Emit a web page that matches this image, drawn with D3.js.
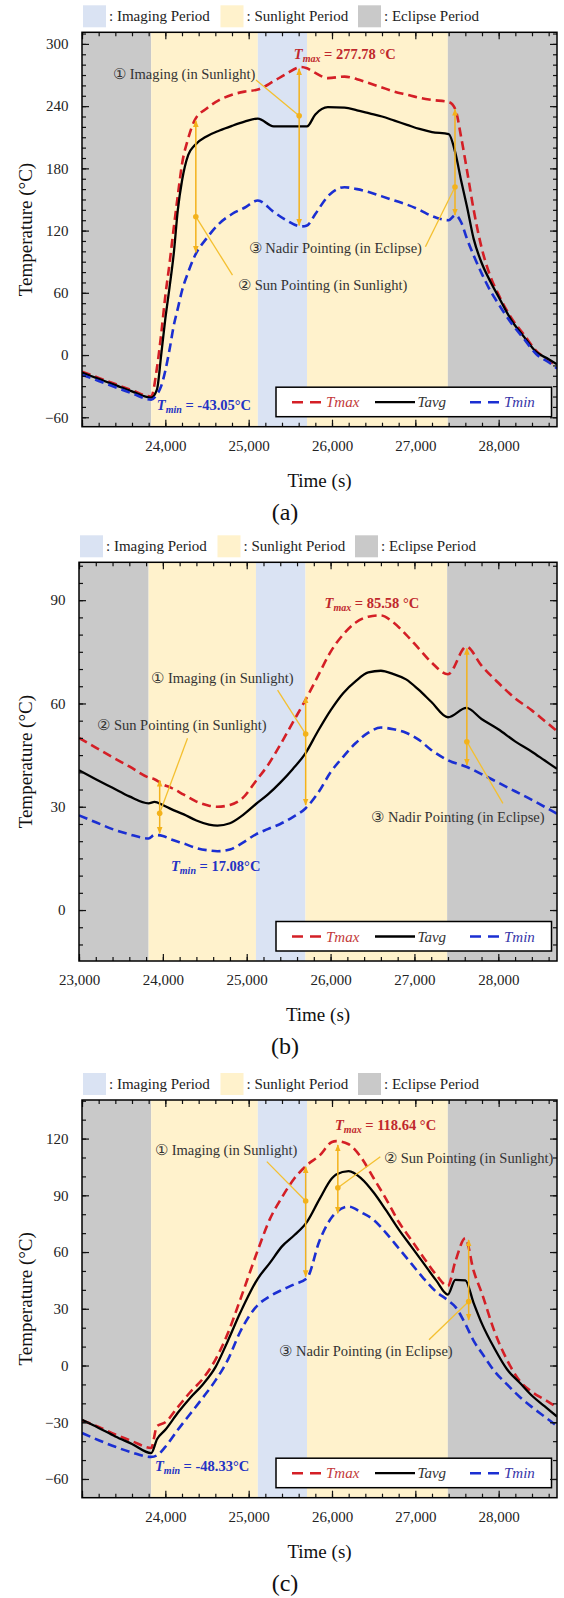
<!DOCTYPE html>
<html>
<head>
<meta charset="utf-8">
<script src="https://cdn.jsdelivr.net/npm/d3@7"></script>
<style>
  body { margin: 0; background: #fff; }
  svg { display: block; font-family: "Liberation Serif", "Times New Roman", serif; }
</style>
</head>
<body>
<svg id="chart" width="564" height="1598"></svg>
<script>
// ---- shared data ----
const timeDomain = [23000, 28700];
const periodKind = ["Eclipse", "Sunlight", "Imaging", "Sunlight", "Eclipse"];
const periodStart = [23000, 23830, 25110, 25700, 27390];
const periodEnd = [23830, 25110, 25700, 27390, 28700];
const legendPeriods = ["Imaging", "Sunlight", "Eclipse"];
const seriesNames = ["Tmax", "Tavg", "Tmin"];

// ---- panel (a) ----
const timeA = [23000, 23200, 23400, 23600, 23830, 23900, 23950, 24000, 24050, 24100, 24150, 24200, 24275, 24350, 24500, 24650, 24800, 24950, 25110, 25300, 25450, 25630, 25700, 25800, 25950, 26150, 26300, 26450, 26600, 26750, 26900, 27050, 27200, 27400, 27480, 27550, 27620, 27700, 27800, 27900, 28000, 28150, 28300, 28450, 28600, 28700];
const tmaxA = [-16, -22, -28, -34, -40, -12, 20, 57, 88, 122, 154, 184, 209, 226, 238, 246, 251, 254, 256, 264, 271, 277.78, 276.5, 272, 267, 268.5, 266, 262, 258, 254, 251, 248, 246, 244, 237, 210, 178, 140, 102, 76, 58, 36, 20, 4, -5, -11];
const tavgA = [-17, -23, -29, -35, -41, -33, 0, 35, 65, 97, 140, 168, 193, 202, 211, 216.5, 221, 225, 228, 220.5, 220.5, 220.5, 220.5, 232, 239, 238.5, 236, 233, 230, 226, 222, 218, 215, 213, 195, 168, 143, 112, 88, 71, 56, 34, 18, 3, -4, -9];
const tminA = [-19, -25, -31, -37, -43.05, -38, -30, -15, 5, 28, 45, 62, 80, 95, 113, 127, 136, 142, 149, 138, 130, 124, 125, 136, 153, 161.8, 160, 157, 153, 149, 145, 140, 134, 130, 135, 128, 112, 96, 78, 62, 49, 31, 16, 1, -7, -13];
const yLabelsA = [-60, 0, 60, 120, 180, 240, 300];
const xLabelsA = [24000, 25000, 26000, 27000, 28000];

// ---- panel (b) ----
const timeB = [23000, 23200, 23400, 23600, 23830, 23900, 24000, 24100, 24250, 24400, 24550, 24650, 24800, 24950, 25110, 25250, 25400, 25550, 25700, 25850, 26000, 26150, 26300, 26450, 26600, 26750, 26900, 27050, 27200, 27400, 27620, 27800, 28000, 28200, 28400, 28550, 28700];
const tmaxB = [50, 47.2, 44.4, 41.7, 38.5, 38, 36.5, 35.5, 33.5, 31.5, 30.3, 30, 30.5, 32.5, 37.5, 42, 48, 54.5, 61, 68, 75, 80, 83.5, 85.2, 85.58, 83.5, 80, 76, 72, 68.5, 76.5, 71, 66, 61.5, 58, 55, 52];
const tavgB = [40.6, 38, 35.5, 33, 31, 31.4, 30.5, 29.3, 27.8, 26, 24.8, 24.5, 25.2, 27.5, 30.8, 33.5, 37, 41, 45.5, 52, 58, 63, 66.5, 69, 69.5, 68.5, 67, 64, 60.5, 56, 58.7, 55.5, 52.5, 49, 46, 43.5, 41];
const tminB = [27.5, 25.5, 23.5, 22, 20.8, 21.8, 21.5, 20.5, 19.3, 18, 17.3, 17.08, 17.6, 19.5, 22, 23.5, 25, 27, 29.5, 34, 40, 44.5, 48.5, 51.5, 53, 52.5, 51.5, 49.5, 46.5, 43.5, 41.6, 39.5, 37, 34.5, 32, 30, 28];
const yLabelsB = [0, 30, 60, 90];
const xLabelsB = [23000, 24000, 25000, 26000, 27000, 28000];

// ---- panel (c) ----
const timeC = [23000, 23200, 23400, 23600, 23830, 23900, 24000, 24150, 24300, 24450, 24600, 24750, 24900, 25110, 25250, 25400, 25550, 25700, 25850, 26000, 26050, 26200, 26350, 26500, 26650, 26800, 26950, 27100, 27250, 27390, 27480, 27600, 27700, 27800, 27950, 28100, 28250, 28400, 28550, 28700];
const tmaxC = [-29, -32.5, -36.5, -40, -43.6, -32, -30, -22, -14, -7, 3, 17, 35, 61, 77, 89, 99, 106, 111, 118.2, 118.64, 117, 110, 99, 88, 76, 66.5, 57, 48, 42, 55, 67.3, 50, 38, 18, 3, -8, -14, -18, -22];
const tavgC = [-28.7, -33, -37.5, -41.5, -46.3, -39, -34, -25, -17, -10, -1, 13, 28, 46, 54, 63, 69, 76, 88, 99, 101, 102.8, 99, 91.5, 82, 72, 63, 54, 45, 37.5, 45.3, 45, 33, 22, 9, -2, -9, -16, -21.5, -27];
const tminC = [-35.7, -39.5, -43, -46, -48.33, -47.5, -43, -34, -25.5, -17, -8, 3, 18, 32, 36.5, 40, 43, 46.2, 66, 78.5, 81, 84, 81, 77, 70, 62, 54, 46, 39, 34.5, 31, 22, 13, 6.5, -3, -10, -16.5, -22, -27, -32];
const yLabelsC = [-60, -30, 0, 30, 60, 90, 120];
const xLabelsC = [24000, 25000, 26000, 27000, 28000];

// annotations, in data units (time, temperature)
const notesA = [
  { text: "① Imaging (in Sunlight)", tx: 23372, ty: 265.9, px: 25088, py: 265.2, dt: 25606, dv: 230.8, top: 276, bottom: 125 },
  { text: "② Sun Pointing (in Sunlight)", tx: 24872, ty: 62.7, px: 24806, py: 77.1, dt: 24366, dv: 133.4, top: 226, bottom: 99 },
  { text: "③ Nadir Pointing (in Eclipse)", tx: 25000, ty: 98.1, px: 27121, py: 104.4, dt: 27476, dv: 162, top: 237, bottom: 135 }
];
const notesB = [
  { text: "① Imaging (in Sunlight)", tx: 23863, ty: 65.8, px: 25368, py: 63.9, dt: 25703, dv: 51.1, top: 61.9, bottom: 30.5 },
  { text: "② Sun Pointing (in Sunlight)", tx: 23218, ty: 52.3, px: 24294, py: 49.9, dt: 23962, dv: 28.1, top: 37.7, bottom: 22.3 },
  { text: "③ Nadir Pointing (in Eclipse)", tx: 26486, ty: 25.6, px: 28055, py: 31, dt: 27625, dv: 48.9, top: 76, bottom: 42.1 }
];
const notesC = [
  { text: "① Imaging (in Sunlight)", tx: 23876, ty: 111.3, px: 25218, py: 107.8, dt: 25684, dv: 87, top: 105.1, bottom: 47 },
  { text: "② Sun Pointing (in Sunlight)", tx: 26624, ty: 106.9, px: 26580, py: 110.4, dt: 26070, dv: 94, top: 116.6, bottom: 80.5 },
  { text: "③ Nadir Pointing (in Eclipse)", tx: 25369, ty: 4.8, px: 27164, py: 13.6, dt: 27640, dv: 33.8, top: 66.4, bottom: 24.1 }
];
const extremesA = [
  { sub: "max", value: " = 277.78 °C", t: 25542, v: 285.4 },
  { sub: "min", value: " = -43.05°C", t: 23898, v: -53 }
];
const extremesB = [
  { sub: "max", value: " = 85.58 °C", t: 25928, v: 87.6 },
  { sub: "min", value: " = 17.08°C", t: 24097, v: 11.3 }
];
const extremesC = [
  { sub: "max", value: " = 118.64 °C", t: 26036, v: 124.5 },
  { sub: "min", value: " = -48.33°C", t: 23876, v: -56 }
];

const periodColor = { Imaging: "#dae3f3", Sunlight: "#fff2cc", Eclipse: "#c9c9c9" };
const lineColor = { Tmax: "#d41f26", Tavg: "#000000", Tmin: "#1b2fd2" };
const textColor = { Tmax: "#c0282d", Tavg: "#222222", Tmin: "#2433c4" };
const legendText = { Tmax: "#c33a3a", Tavg: "#333333", Tmin: "#3535a8" };
const gold = "#f3b21b";

const panels = [
  { id: "a", letter: "(a)", left: 82, right: 557, top: 32.3, bottom: 426.7, yDomain: [-69.1, 311.2], yStep: 10,
    time: timeA, values: [tmaxA, tavgA, tminA], yLabels: yLabelsA, xLabels: xLabelsA, notes: notesA, extremes: extremesA },
  { id: "b", letter: "(b)", left: 79, right: 557, top: 562.3, bottom: 961, yDomain: [-14.8, 101], yStep: 5,
    time: timeB, values: [tmaxB, tavgB, tminB], yLabels: yLabelsB, xLabels: xLabelsB, notes: notesB, extremes: extremesB },
  { id: "c", letter: "(c)", left: 82, right: 557, top: 1100, bottom: 1497.7, yDomain: [-69.9, 140.4], yStep: 10,
    time: timeC, values: [tmaxC, tavgC, tminC], yLabels: yLabelsC, xLabels: xLabelsC, notes: notesC, extremes: extremesC }
];

const svg = d3.select("#chart");

svg.append("defs").append("marker")
  .attr("id", "head")
  .attr("viewBox", "0 0 10 10")
  .attr("refX", 9)
  .attr("refY", 5)
  .attr("markerWidth", 7)
  .attr("markerHeight", 7)
  .attr("markerUnits", "userSpaceOnUse")
  .attr("orient", "auto-start-reverse")
  .append("path")
  .attr("d", "M0,1L10,5L0,9Z")
  .attr("fill", gold);

panels.forEach(drawPanel);

function drawPanel(p) {
  const x = d3.scaleLinear().domain(timeDomain).range([p.left, p.right]);
  const y = d3.scaleLinear().domain(p.yDomain).range([p.bottom, p.top]);
  const g = svg.append("g").attr("class", "panel-" + p.id);

  g.append("clipPath").attr("id", "clip-" + p.id)
    .append("rect")
    .attr("x", p.left).attr("y", p.top)
    .attr("width", p.right - p.left).attr("height", p.bottom - p.top);

  // shaded orbit periods
  g.append("g")
    .selectAll("rect")
    .data(periodKind.map((k, i) => ({ kind: k, start: periodStart[i], end: periodEnd[i] })))
    .join("rect")
    .attr("x", (d) => x(d.start))
    .attr("width", (d) => x(d.end) - x(d.start))
    .attr("y", p.top)
    .attr("height", p.bottom - p.top)
    .attr("fill", (d) => periodColor[d.kind]);

  // period legend above the frame
  const pl = g.append("g").attr("transform", `translate(${p.left},${p.top - 27})`);
  const item = pl.selectAll("g").data(legendPeriods).join("g")
    .attr("transform", (d, i) => `translate(${1 + i * 137.5},0)`);
  item.append("rect").attr("width", 23).attr("height", 22).attr("fill", (d) => periodColor[d]);
  item.append("text")
    .attr("x", 26).attr("y", 16)
    .attr("font-size", 15).attr("fill", "#222")
    .text((d) => ": " + d + " Period");

  // temperature curves
  const lines = g.append("g").attr("clip-path", `url(#clip-${p.id})`);
  const line = d3.line()
    .x((d, i) => x(p.time[i]))
    .y((d) => y(d))
    .curve(d3.curveMonotoneX);
  lines.selectAll("path")
    .data(seriesNames.map((name, i) => ({ name, vals: p.values[i] })))
    .join("path")
    .attr("d", (d) => line(d.vals))
    .attr("fill", "none")
    .attr("stroke", (d) => lineColor[d.name])
    .attr("stroke-width", (d) => (d.name === "Tavg" ? 2.3 : 2.6))
    .attr("stroke-dasharray", (d) => (d.name === "Tavg" ? null : "9,5"))
    .attr("stroke-linejoin", "round");

  // annotations: double arrows, pointer lines, dots, captions
  const ann = g.append("g");
  ann.selectAll("line.arrow").data(p.notes).join("line")
    .attr("class", "arrow")
    .attr("x1", (d) => x(d.dt)).attr("x2", (d) => x(d.dt))
    .attr("y1", (d) => y(d.top)).attr("y2", (d) => y(d.bottom))
    .attr("stroke", gold).attr("stroke-width", 1.5)
    .attr("marker-start", "url(#head)").attr("marker-end", "url(#head)");
  ann.selectAll("line.pointer").data(p.notes).join("line")
    .attr("class", "pointer")
    .attr("x1", (d) => x(d.px)).attr("y1", (d) => y(d.py))
    .attr("x2", (d) => x(d.dt)).attr("y2", (d) => y(d.dv))
    .attr("stroke", "#f4c030").attr("stroke-width", 1.3);
  ann.selectAll("circle").data(p.notes).join("circle")
    .attr("cx", (d) => x(d.dt)).attr("cy", (d) => y(d.dv))
    .attr("r", 2.8).attr("fill", gold);
  ann.selectAll("text").data(p.notes).join("text")
    .attr("x", (d) => x(d.tx)).attr("y", (d) => y(d.ty))
    .attr("font-size", 14.5).attr("fill", "#333")
    .text((d) => d.text);

  // Tmax / Tmin value labels
  p.extremes.forEach((d) => {
    const c = d.sub === "max" ? textColor.Tmax : textColor.Tmin;
    const t = g.append("text")
      .attr("x", x(d.t)).attr("y", y(d.v))
      .attr("font-size", 14.5).attr("font-weight", "bold").attr("fill", c);
    t.append("tspan").attr("font-style", "italic").text("T");
    t.append("tspan").attr("font-style", "italic").attr("font-size", 10).attr("dy", 3).text(d.sub);
    t.append("tspan").attr("dy", -3).text(d.value);
  });

  // series legend box
  const bx = p.right - 281, by = p.bottom - 39.5;
  const lg = g.append("g").attr("transform", `translate(${bx},${by})`);
  lg.append("rect").attr("width", 275.5).attr("height", 29.5)
    .attr("fill", "#fff").attr("stroke", "#000").attr("stroke-width", 1.5);
  const li = lg.selectAll("g").data(seriesNames).join("g")
    .attr("transform", (d, i) => `translate(${[16, 99, 194][i]},15)`);
  li.append("line")
    .attr("x2", (d) => (d === "Tavg" ? 40 : 29))
    .attr("stroke", (d) => lineColor[d])
    .attr("stroke-width", (d) => (d === "Tavg" ? 2.3 : 2.6))
    .attr("stroke-dasharray", (d) => (d === "Tavg" ? null : "11,7"));
  li.append("text")
    .attr("x", (d) => (d === "Tavg" ? 42.5 : 34))
    .attr("y", 5)
    .attr("font-size", 15).attr("font-style", "italic")
    .attr("fill", (d) => legendText[d])
    .text((d) => d);

  // axes with inward ticks on all four sides
  const xMinor = d3.range(timeDomain[0], timeDomain[1] + 1, 200);
  const xMajor = d3.range(timeDomain[0], timeDomain[1] + 1, 1000);
  const yMinor = d3.range(Math.ceil(p.yDomain[0] / p.yStep) * p.yStep, p.yDomain[1], p.yStep);
  const noDomain = (sel) => sel.select(".domain").remove();
  const styleTicks = (sel) => {
    sel.attr("font-family", null).attr("font-size", null);
    sel.selectAll("line").attr("stroke", "#111").attr("stroke-width", 1.2);
    sel.selectAll("text").attr("font-size", 15).attr("fill", "#222");
  };

  const axes = g.append("g");
  axes.append("g").attr("transform", `translate(0,${p.bottom})`)
    .call(d3.axisBottom(x).tickValues(xMinor).tickSize(-4).tickFormat(""))
    .call(noDomain).call(styleTicks);
  axes.append("g").attr("transform", `translate(0,${p.bottom})`)
    .call(d3.axisBottom(x).tickValues(xMajor).tickSize(-7).tickFormat(""))
    .call(noDomain).call(styleTicks);
  axes.append("g").attr("transform", `translate(0,${p.bottom})`)
    .call(d3.axisBottom(x).tickValues(p.xLabels).tickSize(0).tickPadding(13.5).tickFormat(d3.format(",")))
    .call(noDomain).call(styleTicks);
  axes.append("g").attr("transform", `translate(0,${p.top})`)
    .call(d3.axisTop(x).tickValues(xMinor).tickSize(-4).tickFormat(""))
    .call(noDomain).call(styleTicks);
  axes.append("g").attr("transform", `translate(0,${p.top})`)
    .call(d3.axisTop(x).tickValues(xMajor).tickSize(-7).tickFormat(""))
    .call(noDomain).call(styleTicks);

  axes.append("g").attr("transform", `translate(${p.left},0)`)
    .call(d3.axisLeft(y).tickValues(yMinor).tickSize(-4).tickFormat(""))
    .call(noDomain).call(styleTicks);
  axes.append("g").attr("transform", `translate(${p.left},0)`)
    .call(d3.axisLeft(y).tickValues(p.yLabels).tickSize(-7).tickPadding(13.5).tickFormat(d3.format("d")))
    .call(noDomain).call(styleTicks);
  axes.append("g").attr("transform", `translate(${p.right},0)`)
    .call(d3.axisRight(y).tickValues(yMinor).tickSize(-4).tickFormat(""))
    .call(noDomain).call(styleTicks);
  axes.append("g").attr("transform", `translate(${p.right},0)`)
    .call(d3.axisRight(y).tickValues(p.yLabels).tickSize(-7).tickFormat(""))
    .call(noDomain).call(styleTicks);

  g.append("rect")
    .attr("x", p.left).attr("y", p.top)
    .attr("width", p.right - p.left).attr("height", p.bottom - p.top)
    .attr("fill", "none").attr("stroke", "#000").attr("stroke-width", 1.5);

  // titles
  g.append("text")
    .attr("x", (p.left + p.right) / 2).attr("y", p.bottom + 60)
    .attr("text-anchor", "middle").attr("font-size", 19).attr("fill", "#111")
    .text("Time (s)");
  g.append("text")
    .attr("transform", `translate(25,${(p.top + p.bottom) / 2}) rotate(-90)`)
    .attr("text-anchor", "middle").attr("dy", "0.35em")
    .attr("font-size", 19).attr("fill", "#111")
    .text("Temperature (°C)");
  g.append("text")
    .attr("x", 285).attr("y", p.bottom + 93)
    .attr("text-anchor", "middle").attr("font-size", 24).attr("fill", "#111")
    .text(p.letter);
}
</script>
</body>
</html>
